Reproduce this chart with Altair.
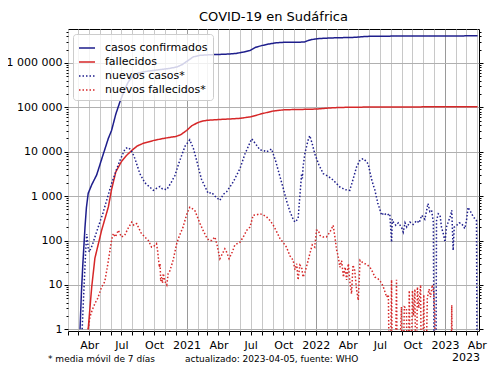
import altair as alt
import pandas as pd

# ---------------- data ----------------
cases_dates = ["2020-03-06","2020-03-10","2020-03-14","2020-03-20","2020-03-24","2020-03-29","2020-04-08","2020-04-22",
    "2020-05-10","2020-05-25","2020-06-03","2020-06-15","2020-06-27","2020-07-10","2020-07-20","2020-08-01","2020-08-15",
    "2020-09-01","2020-09-20","2020-10-15","2020-11-15","2020-12-05","2020-12-20","2021-01-05","2021-01-20","2021-02-08",
    "2021-03-01","2021-04-01","2021-05-01","2021-05-20","2021-06-10","2021-06-29","2021-07-15","2021-08-01","2021-08-20",
    "2021-09-10","2021-10-01","2021-11-15","2021-11-30","2021-12-10","2021-12-20","2022-01-05","2022-01-25","2022-02-20",
    "2022-03-20","2022-04-20","2022-05-05","2022-05-25","2022-06-15","2022-07-15","2022-09-01","2022-12-01","2023-02-01",
    "2023-04-03"]
cases_values = [1,7,30,200,550,1150,1800,3000,8500,20000,30000,70000,135000,250000,370000,490000,580000,630000,660000,
    700000,755000,810000,920000,1130000,1370000,1480000,1515000,1550000,1585000,1630000,1750000,1900000,2250000,2450000,
    2650000,2830000,2900000,2925000,2970000,3180000,3350000,3500000,3590000,3660000,3710000,3760000,3850000,3950000,
    3985000,4005000,4015000,4040000,4055000,4070000]

deaths_dates = ["2020-03-29","2020-04-08","2020-04-17","2020-05-06","2020-05-25","2020-06-03","2020-06-15","2020-07-01",
    "2020-07-15","2020-08-01","2020-08-15","2020-09-01","2020-10-01","2020-11-01","2020-12-01","2020-12-15","2021-01-01",
    "2021-01-15","2021-02-01","2021-02-15","2021-03-01","2021-04-01","2021-05-01","2021-06-01","2021-07-01","2021-08-01",
    "2021-09-01","2021-10-01","2021-11-01","2021-12-01","2022-01-01","2022-02-01","2022-03-01","2022-04-01","2022-06-01",
    "2022-09-01","2023-01-01","2023-04-03"]
deaths_values = [1,9,40,170,570,1400,3500,6000,8200,11000,13500,15500,18000,20200,22000,24000,30000,38000,45000,49000,
    51000,53000,54500,56500,61000,71500,82000,87500,89100,89900,91200,95500,98500,100000,101300,102000,102500,102600]

new_cases_dates = ["2020-03-12","2020-03-17","2020-03-22","2020-03-25","2020-03-27","2020-03-29","2020-04-01","2020-04-05",
    "2020-04-10","2020-04-17","2020-04-28","2020-05-10","2020-05-22","2020-06-03","2020-06-15","2020-06-27","2020-07-11",
    "2020-07-18","2020-07-25","2020-08-01","2020-08-08","2020-08-22","2020-09-05","2020-09-15","2020-09-29","2020-10-08",
    "2020-10-18","2020-10-25","2020-11-06","2020-11-18","2020-11-29","2020-12-10","2020-12-18","2020-12-28","2021-01-10",
    "2021-01-20","2021-01-29","2021-02-12","2021-03-03","2021-03-13","2021-03-22","2021-04-05","2021-04-15","2021-04-24",
    "2021-05-13","2021-06-01","2021-06-15","2021-07-04","2021-07-15","2021-07-27","2021-08-08","2021-08-15","2021-08-29",
    "2021-09-10","2021-09-22","2021-10-01","2021-10-10","2021-10-20","2021-10-29","2021-11-03","2021-11-12","2021-11-17",
    "2021-11-22","2021-11-24","2021-11-26","2021-12-01","2021-12-10","2021-12-15","2021-12-22","2021-12-29","2022-01-10",
    "2022-01-22","2022-02-05","2022-02-19","2022-03-10","2022-03-25","2022-04-07","2022-04-17","2022-04-26","2022-05-06",
    "2022-05-15","2022-05-22","2022-05-29","2022-06-08","2022-06-17","2022-06-25","2022-07-06","2022-07-12","2022-07-20",
    "2022-07-29","2022-08-03","2022-08-05","2022-08-08","2022-08-15","2022-08-22","2022-08-31","2022-09-05","2022-09-10",
    "2022-09-15","2022-09-24","2022-10-03","2022-10-13","2022-10-20","2022-10-27","2022-11-05","2022-11-14","2022-11-19",
    "2022-11-24","2022-11-29","2022-12-02","2022-12-06","2022-12-08","2022-12-13","2022-12-18","2022-12-22","2022-12-27",
    "2023-01-01","2023-01-05","2023-01-10","2023-01-16","2023-01-20","2023-01-24","2023-01-27","2023-02-03","2023-02-10",
    "2023-02-17","2023-02-26","2023-03-03","2023-03-07","2023-03-14","2023-03-22","2023-03-31","2023-04-02"]
new_cases_values = [1,8,60,140,100,70,55,65,80,120,220,420,900,1900,3600,6400,11500,12500,11500,9500,7000,3200,2000,
    1700,1350,1500,1650,1450,1400,2000,2900,5500,8200,13500,18500,12000,6500,2400,1150,1200,1000,800,1100,1250,2100,
    4200,9000,19500,15000,11000,10500,9900,11500,6000,2700,1500,800,450,300,260,310,1000,3200,2500,4500,9000,18000,
    23000,15000,9000,5000,3200,2800,2300,1600,1400,1350,2500,4500,6500,7000,6200,5300,2300,1350,700,370,420,370,400,
    92,300,260,220,250,200,155,250,200,260,230,280,250,370,300,680,450,480,260,0,0,280,400,370,200,144,92,200,260,350,
    480,60,200,220,250,240,185,300,560,450,340,280,0]

new_deaths_dates = ["2020-03-29","2020-04-03","2020-04-10","2020-04-17","2020-04-25","2020-05-06","2020-05-10","2020-05-15",
    "2020-05-22","2020-06-03","2020-06-08","2020-06-14","2020-06-22","2020-07-01","2020-07-10","2020-07-20","2020-07-30",
    "2020-08-05","2020-08-13","2020-08-25","2020-09-05","2020-09-15","2020-09-24","2020-10-01","2020-10-08","2020-10-11",
    "2020-10-13","2020-10-16","2020-10-18","2020-10-20","2020-10-22","2020-10-25","2020-10-27","2020-11-01","2020-11-06",
    "2020-11-10","2020-11-15","2020-11-24","2020-12-04","2020-12-12","2020-12-22","2021-01-01","2021-01-10","2021-01-17",
    "2021-01-24","2021-02-08","2021-02-18","2021-02-26","2021-03-05","2021-03-13","2021-03-22","2021-03-28","2021-04-05",
    "2021-04-12","2021-04-19","2021-04-24","2021-05-01","2021-05-10","2021-05-17","2021-05-24","2021-06-01","2021-06-10",
    "2021-06-20","2021-06-29","2021-07-08","2021-07-18","2021-07-27","2021-08-05","2021-08-15","2021-08-25","2021-09-03",
    "2021-09-12","2021-09-22","2021-10-01","2021-10-10","2021-10-20","2021-10-29","2021-11-03","2021-11-08","2021-11-12",
    "2021-11-17","2021-11-22","2021-11-26","2021-12-01","2021-12-08","2021-12-15","2021-12-22","2021-12-29","2022-01-03",
    "2022-01-08","2022-01-13","2022-01-22","2022-01-31","2022-02-10","2022-02-19","2022-02-24","2022-03-01","2022-03-05",
    "2022-03-10","2022-03-15","2022-03-20","2022-03-25","2022-03-29","2022-04-03","2022-04-07","2022-04-12","2022-04-16",
    "2022-04-21","2022-04-26","2022-05-01","2022-05-06","2022-05-13","2022-05-20","2022-05-27","2022-06-03","2022-06-10",
    "2022-06-17","2022-06-25","2022-07-06","2022-07-13","2022-07-20","2022-07-25","2022-07-29","2022-08-03","2022-08-06",
    "2022-08-12","2022-08-17","2022-08-20","2022-08-31","2022-09-03","2022-09-08","2022-09-14","2022-09-18","2022-09-22",
    "2022-09-26","2022-10-01","2022-10-04","2022-10-08","2022-10-11","2022-10-15","2022-10-19","2022-10-24","2022-10-27",
    "2022-11-02","2022-11-06","2022-11-12","2022-11-17","2022-11-21","2022-11-26","2022-11-30","2022-12-03","2022-12-06",
    "2023-01-17","2023-01-20","2023-01-23","2023-04-03"]
new_deaths_values = [1,1.9,2.8,3.8,5,9,10,12,25,100,144,120,170,120,130,190,260,220,240,150,120,100,71,75,85,60,42,25,
    30,12,15,11,18,12,10,18,21,36,85,130,200,380,560,520,480,240,160,120,100,100,120,80,39,50,65,55,39,55,78,85,92,
    120,170,200,370,380,400,380,340,280,220,160,110,90,71,45,36,22,30,13,28,25,15,19,30,50,80,71,170,170,130,120,120,
    155,220,120,60,45,25,35,15,25,13,30,12,6.3,28,21,8,4.5,36,32,30,28,25,20,15,14,11,8,5.3,6,0,13,0,0,13,0,3.2,0,
    3.2,3,0,7.5,0,7.5,2,8,0,9,3,10,0,6,0,5,8,5.3,10,7,2.3,0,0,3.5,0,0]

series_names = ["casos confirmados", "fallecidos", "nuevos casos*", "nuevos fallecidos*"]
title_text = "COVID-19 en Sudáfrica"
note_left = "* media móvil de 7 días"
note_mid = "actualizado: 2023-04-05, fuente: WHO"
year_extra = "2023"

# ---------------- build table ----------------
frames = []
for name, d, v in zip(series_names,
                      [cases_dates, deaths_dates, new_cases_dates, new_deaths_dates],
                      [cases_values, deaths_values, new_cases_values, new_deaths_values]):
    frames.append(pd.DataFrame({"date": d, "value": v, "series": name}))
df = pd.concat(frames, ignore_index=True)

navy = "#1e1e8c"
red = "#d62728"
series_colors = [navy, red, navy, red]
series_dashes = [[1, 0], [1, 0], [1.5, 2], [1.5, 2]]

month_ticks = [alt.DateTime(year=y, month=m, date=1, utc=True)
               for y in range(2020, 2024) for m in range(1, 13)
               if (2020, 2) <= (y, m) <= (2023, 4)]
y_ticks = [d * 10 ** k for k in range(0, 7) for d in range(1, 10) if d * 10 ** k <= 5000000]
major_test = "indexof([1,10,100,1000,10000,100000,1000000], datum.value) >= 0"

x_enc = alt.X(
    "date:T",
    scale=alt.Scale(type="utc",
                    domain=[alt.DateTime(year=2020, month=2, date=1, utc=True),
                            alt.DateTime(year=2023, month=4, date=7, utc=True)]),
    axis=alt.Axis(
        values=month_ticks, title=None, grid=True, domain=False,
        gridColor={"condition": {"test": "utcmonth(datum.value) == 0", "value": "#9a9a9a"}, "value": "#c8c8c8"},
        gridWidth=1,
        labelExpr=("utcmonth(datum.value) == 0 ? utcFormat(datum.value, '%Y') : "
                   "utcmonth(datum.value) == 3 ? 'Abr' : utcmonth(datum.value) == 6 ? 'Jul' : "
                   "utcmonth(datum.value) == 9 ? 'Oct' : ''"),
        labelOverlap=False, labelFlush=False, labelFontSize=11, labelFont="DejaVu Sans",
        labelColor="black", labelPadding=4, tickColor="black", tickSize=4, tickWidth=1),
)

y_scale = alt.Scale(type="log", domain=[0.916, 5800000], nice=False)

y_left = alt.Y(
    "v:Q", scale=y_scale,
    axis=alt.Axis(
        values=y_ticks, title=None, grid=True, domain=False,
        gridColor="#b0b0b0",
        gridOpacity={"condition": {"test": major_test, "value": 1}, "value": 0},
        tickSize={"condition": {"test": major_test, "value": 4}, "value": 2},
        tickColor="black", tickWidth=1,
        labelExpr=(major_test + " ? replace(format(datum.value, ','), regexp(',', 'g'), ' ') : ''"),
        labelOverlap=False, labelFontSize=11, labelFont="DejaVu Sans", labelColor="black", labelPadding=2),
)

y_right = alt.Y(
    "v:Q", scale=y_scale,
    axis=alt.Axis(
        orient="right", values=y_ticks, title=None, grid=False, domain=False, labels=False,
        tickSize={"condition": {"test": major_test, "value": 4}, "value": 2},
        tickColor="black", tickWidth=1),
)

legend = alt.Legend(
    title=None, orient="top-left", offset=5, padding=5,
    fillColor="rgba(255,255,255,0.8)", strokeColor="#cccccc", cornerRadius=3,
    symbolType="stroke", symbolSize=256, symbolStrokeWidth=1.5,
    labelFontSize=11, labelFont="DejaVu Sans", labelColor="black", labelOffset=9,
    rowPadding=0, zindex=1,
)

# zero days fall far below the axis, so their segments run off the bottom edge and are clipped
base = alt.Chart(df).transform_calculate(v="max(datum.value, 0.01)")

lines = base.mark_line(strokeWidth=1.5, clip=True).encode(
    x=x_enc,
    y=y_left,
    color=alt.Color("series:N", scale=alt.Scale(domain=series_names, range=series_colors), legend=legend),
    strokeDash=alt.StrokeDash("series:N", scale=alt.Scale(domain=series_names, range=series_dashes), legend=legend),
)

right_axis = base.transform_filter("datum.value >= 1").mark_point(opacity=0).encode(y=y_right)

t_left = alt.Chart(pd.DataFrame({"t": [note_left]})).mark_text(
    align="left", baseline="middle", fontSize=9, font="DejaVu Sans", color="black"
).encode(text="t:N", x=alt.value(-20), y=alt.value(330))

t_mid = alt.Chart(pd.DataFrame({"t": [note_mid]})).mark_text(
    align="left", baseline="middle", fontSize=9, font="DejaVu Sans", color="black"
).encode(text="t:N", x=alt.value(117), y=alt.value(330))

t_year = alt.Chart(pd.DataFrame({"t": [year_extra]})).mark_text(
    align="right", baseline="middle", fontSize=11, font="DejaVu Sans", color="black"
).encode(text="t:N", x=alt.value(412), y=alt.value(329))

chart = alt.layer(lines, right_axis, t_left, t_mid, t_year).resolve_scale(
    y="shared"
).resolve_axis(
    y="independent"
).properties(
    width=411, height=302,
    autosize=alt.AutoSizeParams(type="none"),
    padding={"left": 60, "top": 21, "right": 12, "bottom": 36},
    title=alt.TitleParams(title_text, fontSize=13, font="DejaVu Sans", fontWeight="normal",
                          anchor="middle", offset=2, color="black"),
).configure(
    font="DejaVu Sans",
    view=alt.ViewConfig(stroke="black", strokeWidth=1),
)

chart.save("out.html", embed_options={"renderer": "svg", "actions": False})
